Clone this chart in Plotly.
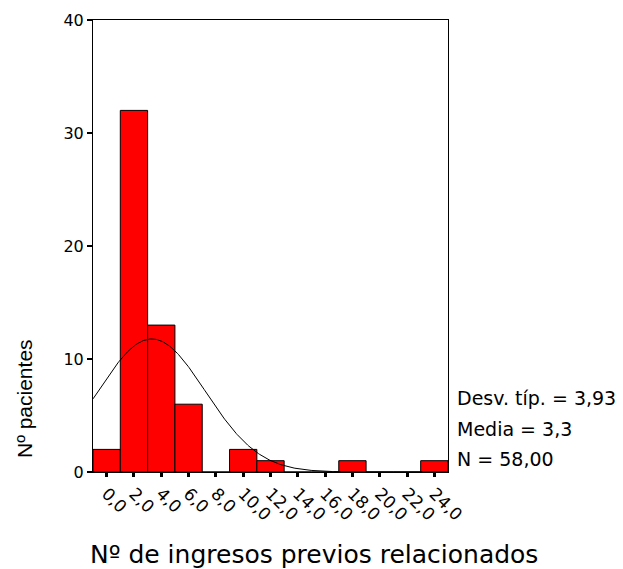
import numpy as np
import plotly.graph_objects as go

# Data
bin_centers = [0, 2, 4, 6, 8, 10, 12, 14, 16, 18, 20, 22, 24]
counts = [2, 32, 13, 6, 0, 2, 1, 0, 0, 1, 0, 0, 1]
tick_vals = [0, 2, 4, 6, 8, 10, 12, 14, 16, 18, 20, 22, 24]
tick_text = ["0,0", "2,0", "4,0", "6,0", "8,0", "10,0", "12,0", "14,0",
             "16,0", "18,0", "20,0", "22,0", "24,0"]
y_ticks = [0, 10, 20, 30, 40]
mean_val = 3.3
sd_val = 3.93
n_val = 58
bin_width = 2

# Fitted normal curve
xc = np.linspace(-1, 25, 400)
yc = n_val * bin_width / (sd_val * np.sqrt(2 * np.pi)) * np.exp(-0.5 * ((xc - mean_val) / sd_val) ** 2)

wide = "DejaVu Sans, Arial, sans-serif"
narrow = "Liberation Sans, Arial, sans-serif"

fig = go.Figure()
fig.add_trace(go.Bar(
    x=bin_centers, y=counts, width=bin_width,
    marker=dict(color="#FF0000", line=dict(color="black", width=1)),
    hoverinfo="x+y"
))
fig.add_trace(go.Scatter(
    x=xc, y=yc, mode="lines",
    line=dict(color="black", width=1), hoverinfo="skip"
))

def px_x(p):
    return (p - 93) / 355

def px_y(p):
    return (472 - p) / 452

fig.update_layout(
    width=623, height=569,
    margin=dict(l=93, r=175, t=20, b=97),
    paper_bgcolor="white", plot_bgcolor="white",
    showlegend=False,
    font=dict(family=wide, color="black", size=16),
    xaxis=dict(
        range=[-1, 25], tickmode="array", tickvals=tick_vals, ticktext=tick_text,
        tickangle=45, ticks="outside", ticklen=4, tickwidth=3, tickcolor="black",
        showline=True, linecolor="black", linewidth=1, mirror=True,
        showgrid=False, zeroline=False, tickfont=dict(size=17, family=wide),
    ),
    yaxis=dict(
        range=[0, 40], tickvals=y_ticks, ticks="outside", ticklen=5, tickwidth=2,
        tickcolor="black", showline=True, linecolor="black", linewidth=1, mirror=True,
        showgrid=False, zeroline=False, tickfont=dict(size=16, family=wide),
    ),
    annotations=[
        dict(text="Nº de ingresos previos relacionados", xref="paper", yref="paper",
             x=px_x(314), y=px_y(554), xanchor="center", yanchor="middle",
             showarrow=False, font=dict(size=25, family=wide)),
        dict(text="Nº pacientes", xref="paper", yref="paper",
             x=px_x(24), y=px_y(399), xanchor="center", yanchor="middle",
             textangle=-90, showarrow=False, font=dict(size=21, family=narrow)),
        dict(text="Desv. típ. = 3,93", xref="paper", yref="paper",
             x=px_x(455), y=px_y(398), xanchor="left", yanchor="middle",
             showarrow=False, font=dict(size=19, family=wide)),
        dict(text="Media = 3,3", xref="paper", yref="paper",
             x=px_x(455), y=px_y(429), xanchor="left", yanchor="middle",
             showarrow=False, font=dict(size=19, family=wide)),
        dict(text="N = 58,00", xref="paper", yref="paper",
             x=px_x(455), y=px_y(459), xanchor="left", yanchor="middle",
             showarrow=False, font=dict(size=19, family=wide)),
    ],
)

fig.write_html("out.html")
